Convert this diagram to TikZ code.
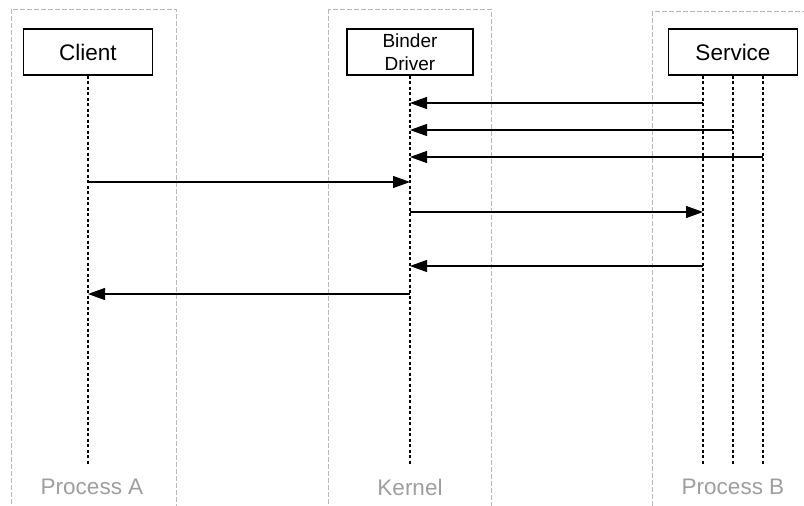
\documentclass[tikz,border=0pt]{standalone}
\usepackage{fontspec}
\setmainfont{Liberation Sans}
\usetikzlibrary{arrows.meta}

\definecolor{boxgray}{gray}{0.72}
\definecolor{labelgray}{gray}{0.62}

\begin{document}
\begin{tikzpicture}[x=1pt,y=-1pt,
    procbox/.style={draw=boxgray, dash pattern=on 5pt off 2pt, line width=0.9pt},
    actor/.style={draw, line width=1.2pt, minimum width=129pt, minimum height=46pt,
        inner sep=0pt, align=center, font=\fontsize{22.5}{26}\selectfont},
    lifeline/.style={dash pattern=on 3pt off 2.5pt, line width=1.3pt},
    msg/.style={-{Triangle[length=17pt,width=12pt]}, line width=1.1pt},
    proclabel/.style={text=labelgray, font=\fontsize{22.5}{26}\selectfont}]
    % Fix the page size to the reference
    \useasboundingbox (0,0) rectangle (804,506);
    \clip (0,0) rectangle (804,506);

    % Draw the dashed process frames
    \draw[procbox] (11,9) rectangle (176,530);
    \draw[procbox] (328,9) rectangle (491,530);
    \draw[procbox] (652,11) rectangle (830,530);

    % Define the participants
    \node[actor] (client) at (88,52) {Client};
    \node[actor, minimum width=126pt, font=\fontsize{19}{23}\selectfont] (binder) at (410,52) {Binder\\Driver};
    \node[actor] (service) at (733,52) {Service};

    % Define the lifeline ends
    \coordinate (cTop) at (client.south);
    \coordinate (bTop) at (binder.south);
    \coordinate (s1Top) at ([xshift=-30pt]service.south);
    \coordinate (s2Top) at (service.south);
    \coordinate (s3Top) at ([xshift=30pt]service.south);
    \coordinate (cEnd) at (cTop |- 0,465);
    \coordinate (bEnd) at (bTop |- 0,465);
    \coordinate (s1End) at (s1Top |- 0,465);
    \coordinate (s2End) at (s2Top |- 0,465);
    \coordinate (s3End) at (s3Top |- 0,465);

    % Draw the lifelines
    \draw[lifeline] (cTop) -- (cEnd);
    \draw[lifeline] (bTop) -- (bEnd);
    \draw[lifeline] (s1Top) -- (s1End);
    \draw[lifeline] (s2Top) -- (s2End);
    \draw[lifeline] (s3Top) -- (s3End);

    % Draw the messages
    \draw[msg] (s1Top |- 0,103) -- (bTop |- 0,103);
    \draw[msg] (s2Top |- 0,130) -- (bTop |- 0,130);
    \draw[msg] (s3Top |- 0,157) -- (bTop |- 0,157);
    \draw[msg] (cTop |- 0,182) -- (bTop |- 0,182);
    \draw[msg] (bTop |- 0,212) -- (s1Top |- 0,212);
    \draw[msg] (s1Top |- 0,266) -- (bTop |- 0,266);
    \draw[msg] (bTop |- 0,294) -- (cTop |- 0,294);

    % Draw the process labels
    \node[proclabel] (procA) at (92,487) {Process A};
    \node[proclabel] (kernel) at (410,487) {Kernel};
    \node[proclabel] (procB) at (733,487) {Process B};
\end{tikzpicture}
\end{document}
